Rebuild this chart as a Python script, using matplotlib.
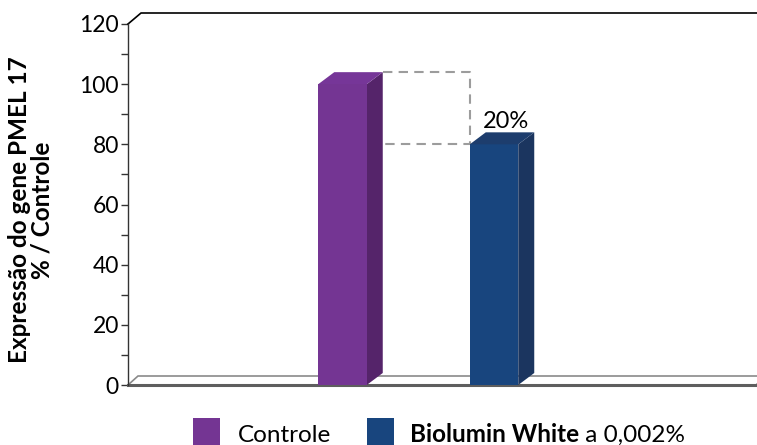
import matplotlib.pyplot as plt
from matplotlib.patches import Polygon, Rectangle
from matplotlib.ticker import MultipleLocator

# data
categories = ['Controle', 'Biolumin White a 0,002%']
values = [100, 80]
reduction_label = '20%'
yticks = [0, 20, 40, 60, 80, 100, 120]

front_colors = ['#743593', '#18457e']
side_colors = ['#55246a', '#1b355f']
top_colors = ['#763698', '#1d3d6d']

plt.rcParams['font.family'] = ['Lato', 'DejaVu Sans']

W, H = 757, 445
fig = plt.figure(figsize=(W / 100, H / 100), dpi=100)
# axes = front plane of the 3D box (pixel layout)
ax_l, ax_r, ax_t, ax_b = 128, 742, 24, 385
ax = fig.add_axes([ax_l / W, 1 - ax_b / H, (ax_r - ax_l) / W, (ax_b - ax_t) / H])

xlim = (-1.416, 2.637)
ax.set_xlim(*xlim)
ax.set_ylim(0, 120)
px_x = (ax_r - ax_l) / (xlim[1] - xlim[0])
px_y = (ax_b - ax_t) / 120.0

# depth offsets
dx_bar, dy_bar = 16 / px_x, 12 / px_y
dx_wall, dy_wall = 13 / px_x, 11 / px_y
dx_floor, dy_floor = 10 / px_x, 9 / px_y

for s in ['top', 'right', 'bottom']:
    ax.spines[s].set_visible(False)
ax.spines['left'].set_color('#333333')
ax.spines['left'].set_linewidth(1.0)
ax.set_xticks([])
ax.set_yticks(yticks)
ax.yaxis.set_minor_locator(MultipleLocator(10))
ax.tick_params(axis='y', which='both', direction='out', length=5, width=1,
               color='#333333', labelsize=16.5, pad=1.5)

# back wall top edge
ytop = 120
ax.plot([xlim[0], xlim[0] + dx_wall, xlim[1] + 1], [ytop, ytop + dy_wall, ytop + dy_wall],
        color='black', lw=1.2, clip_on=False)

# floor slab
x0, x1 = xlim[0], xlim[1] + 14 / px_x
floor = Polygon([(x0, 0), (x1, 0), (x1 + dx_floor, dy_floor), (x0 + dx_floor, dy_floor)],
                closed=True, facecolor='white', edgecolor='#8a8a8a', lw=1.2, clip_on=False, zorder=2)
ax.add_patch(floor)
ax.plot([x0, x1], [0, 0], color='#5e5e5e', lw=2.2, clip_on=False, zorder=2)

# bars with 3D faces
w = 0.32
xs = list(range(len(values)))
ax.bar(xs, values, width=w, color=front_colors, zorder=4)
for x, v, sc, tc in zip(xs, values, side_colors, top_colors):
    r = x + w / 2
    l = x - w / 2
    ax.add_patch(Polygon([(r, 0), (r + dx_bar, dy_bar), (r + dx_bar, v + dy_bar), (r, v)],
                         closed=True, facecolor=sc, edgecolor='none', zorder=3, clip_on=False))
    ax.add_patch(Polygon([(l, v), (r, v), (r + dx_bar, v + dy_bar), (l + dx_bar, v + dy_bar)],
                         closed=True, facecolor=tc, edgecolor='none', zorder=4, clip_on=False))

# dashed difference box
bx0 = xs[0] + w / 2 + dx_bar
bx1 = xs[1] - w / 2
ax.plot([bx0, bx1, bx1, bx0], [values[0] + dy_bar, values[0] + dy_bar, values[1], values[1]],
        color='#9c9c9c', lw=1.5, ls=(0, (4.5, 3)), zorder=3)
ax.text(xs[1] + 0.08, values[1] + dy_bar + 1.3, reduction_label, ha='center', va='baseline',
        fontsize=17)

fig.text(31 / W, 1 - 210 / H, 'Expressão do gene PMEL 17\n% / Controle', rotation=90,
         ha='center', va='center', multialignment='center', fontsize=17.5,
         fontweight='bold', linespacing=1.0)

# legend drawn by hand
sq = 27
fs = 17.5
base = 1 - 442 / H
fig.add_artist(Rectangle((193 / W, 1 - 445 / H), sq / W, sq / H, transform=fig.transFigure,
                         facecolor=front_colors[0], edgecolor='none'))
fig.text(238 / W, base, categories[0], fontsize=fs, va='baseline')
fig.add_artist(Rectangle((367 / W, 1 - 445 / H), sq / W, sq / H, transform=fig.transFigure,
                         facecolor=front_colors[1], edgecolor='none'))
name, rest = 'Biolumin White', ' a 0,002%'
t1 = fig.text(410 / W, base, name, fontsize=fs, fontweight='bold', va='baseline')
fig.canvas.draw()
bb = t1.get_window_extent()
fig.text(bb.x1 / W, base, rest, fontsize=fs, va='baseline')

fig.savefig('out.png', dpi=100)
